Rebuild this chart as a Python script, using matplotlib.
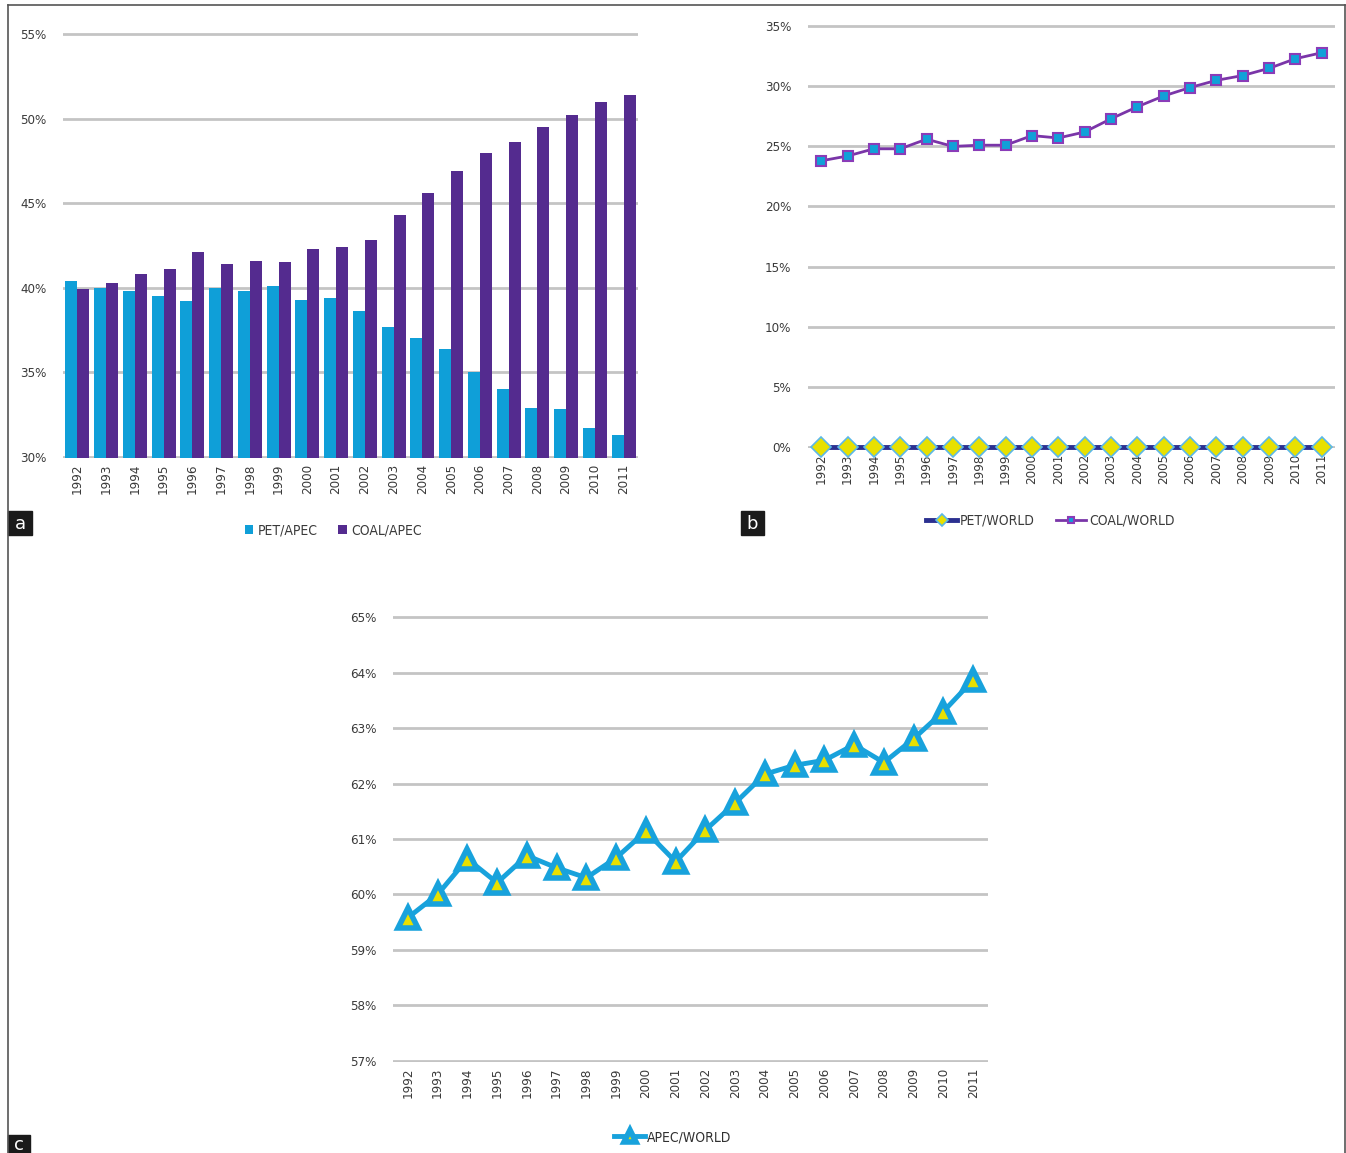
import numpy as np
import matplotlib
matplotlib.use("Agg")
import matplotlib.pyplot as plt
from matplotlib.ticker import FuncFormatter
from matplotlib.lines import Line2D
from matplotlib.patches import Rectangle

plt.rcParams['font.family'] = ['DejaVu Sans']
plt.rcParams['font.stretch'] = 'condensed'

years = [str(y) for y in range(1992, 2012)]

# panel a: shares within APEC (%)
pet_apec = [40.4, 40.0, 39.8, 39.5, 39.2, 40.0, 39.8, 40.1, 39.3, 39.4,
            38.6, 37.7, 37.0, 36.4, 35.0, 34.0, 32.9, 32.8, 31.7, 31.3]
coal_apec = [39.9, 40.3, 40.8, 41.1, 42.1, 41.4, 41.6, 41.5, 42.3, 42.4,
             42.8, 44.3, 45.6, 46.9, 48.0, 48.6, 49.5, 50.2, 51.0, 51.4]

# panel b: shares of world (%)
pet_world = [0.0] * 20
coal_world = [23.8, 24.2, 24.8, 24.8, 25.6, 25.0, 25.1, 25.1, 25.9, 25.7,
              26.2, 27.3, 28.3, 29.2, 29.9, 30.5, 30.9, 31.5, 32.3, 32.8]

# panel c: APEC share of world (%)
apec_world = [59.58, 60.0, 60.64, 60.21, 60.7, 60.48, 60.3, 60.66, 61.14, 60.59,
              61.16, 61.65, 62.17, 62.33, 62.42, 62.7, 62.38, 62.81, 63.3, 63.87]

W, H = 1346, 1153
fig = plt.figure(figsize=(W / 100, H / 100), dpi=100)


def px_axes(x0, y0, x1, y1):
    # pixel box (top-left origin) -> figure fraction
    return fig.add_axes([x0 / W, 1 - y1 / H, (x1 - x0) / W, (y1 - y0) / H])


pct = FuncFormatter(lambda v, p: f"{v:.0f}%")
grid_c = '#c4c4c4'
tick_c = '#3a3a3a'


def style(ax, lo, hi, step):
    pad = (hi - lo) * 0.003
    ax.set_ylim(lo - pad, hi + pad)
    ax.set_yticks(np.arange(lo, hi + 0.01, step))
    ax.yaxis.set_major_formatter(pct)
    ax.set_xlim(-0.5, 19.5)
    ax.set_xticks(range(20))
    ax.set_xticklabels(years, rotation=90)
    for s in ax.spines.values():
        s.set_visible(False)
    ax.tick_params(length=0, labelsize=9.5, colors=tick_c, pad=4)
    ax.tick_params(axis='y', pad=12)
    ax.grid(axis='y', color=grid_c, lw=2)
    ax.set_axisbelow(True)


# ---- a
ax = px_axes(63, 33, 638, 458)
x = np.arange(20)
ax.bar(x - 0.21, pet_apec, width=0.42, color='#0f9fd8', label='PET/APEC')
ax.bar(x + 0.21, coal_apec, width=0.42, color='#542b8f', label='COAL/APEC')
style(ax, 30, 55, 5)
ax.legend(loc='upper center', bbox_to_anchor=(0.47, -0.125), ncol=2, frameon=False,
          fontsize=10, handlelength=0.6, handleheight=0.6, handletextpad=0.3,
          columnspacing=1.5, labelcolor=tick_c)

# ---- b
ax = px_axes(808, 25, 1335, 448)
ax.plot(x, pet_world, color='#2b3090', lw=3.5, marker='D', ms=10,
        mfc='#e8e000', mec='#5bb8e8', mew=1.2, label='PET/WORLD', clip_on=False, zorder=3)
ax.plot(x, coal_world, color='#7a35a8', lw=2, marker='s', ms=6.5,
        mfc='#11a0d8', mec='#8a3cb8', mew=1.5, label='COAL/WORLD')
style(ax, 0, 35, 5)
ax.legend(loc='upper center', bbox_to_anchor=(0.46, -0.125), ncol=2, frameon=False,
          fontsize=10, handlelength=2.2, handletextpad=0.2, columnspacing=1.5,
          markerscale=0.6, labelcolor=tick_c)

# ---- c
ax = px_axes(393, 616, 988, 1062)
ax.plot(x, apec_world, color='#18a2dc', lw=3.5, marker='^', ms=15,
        mfc='#e8e000', mec='#18a2dc', mew=4, label='APEC/WORLD')
style(ax, 57, 65, 1)
ax.legend(loc='upper center', bbox_to_anchor=(0.47, -0.125), ncol=1, frameon=False,
          fontsize=10, handlelength=2.2, handletextpad=0.1, markerscale=0.6,
          labelcolor='#303030')

# outer frame
fig.add_artist(Line2D([8 / W, 8 / W], [0, 1 - 5 / H], color='#555555', lw=1.2))
fig.add_artist(Line2D([8 / W, 1345 / W], [1 - 5 / H, 1 - 5 / H], color='#555555', lw=1.2))
fig.add_artist(Line2D([1345 / W, 1345 / W], [0, 1 - 5 / H], color='#555555', lw=1.2))

# panel letters
for lab, x0, y0, w, h in [('a', 8, 511, 24, 24), ('b', 741, 511, 23, 24), ('c', 8, 1135, 22, 18)]:
    fig.add_artist(Rectangle((x0 / W, 1 - (y0 + h) / H), w / W, h / H,
                             transform=fig.transFigure, color='#1a1a1a'))
    fig.text((x0 + w / 2) / W, 1 - (y0 + h / 2 + 1) / H, lab, color='white',
             fontsize=13, ha='center', va='center', family='DejaVu Sans', stretch='normal')

fig.savefig('out.png', dpi=100)
